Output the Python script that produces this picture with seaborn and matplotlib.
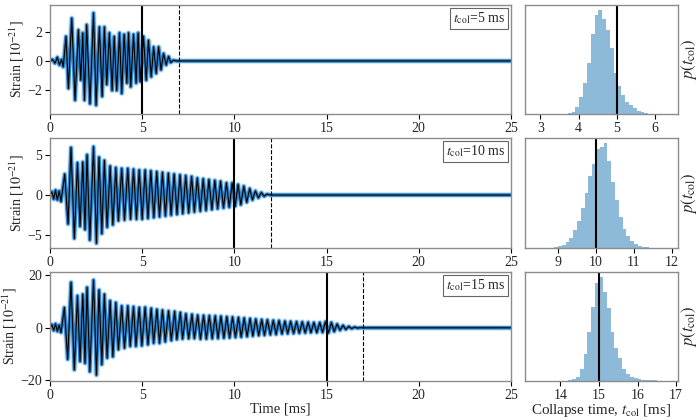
import numpy as np
import pandas as pd
import matplotlib
matplotlib.use("Agg")
import matplotlib.pyplot as plt
import seaborn as sns

sns.set_theme(style="ticks")
plt.rcParams["font.family"] = ["Liberation Serif", "DejaVu Serif"]
plt.rcParams["mathtext.fontset"] = "stix"
plt.rcParams["font.size"] = 10

# collapse times of the three rows
t_col = [5, 10, 15]

# waveform extrema (time [ms], strain [1e-21])
t1 = [0.0, 0.14, 0.27, 0.40, 0.51, 0.63, 0.72, 0.87, 1.00, 1.18, 1.36, 1.54, 1.67, 1.78,
      1.87, 1.99, 2.17, 2.36, 2.50, 2.68, 2.83, 2.95, 3.08, 3.22, 3.37, 3.48, 3.62, 3.77,
      3.89, 4.02, 4.17, 4.26, 4.38, 4.53, 4.67, 4.78, 4.89, 5.07, 5.22, 5.34, 5.49, 5.62,
      5.76, 5.89, 6.02, 6.16, 6.30, 6.43, 6.55, 6.70, 6.85, 25.0]
h1 = [0.0, 0.1, -0.15, 0.25, -0.27, 0.1, -0.4, 1.66, -1.86, 2.9, -2.66, 2.1, -1.3, 1.9,
      -2.66, 2.45, -2.9, 3.25, -3.0, 2.3, -2.4, 2.3, -1.6, 1.9, -2.0, 1.66, -2.0, 1.9,
      -2.2, 1.8, -1.5, 1.9, -1.75, 1.8, -1.5, 1.9, -1.4, 1.66, -1.3, 1.4, -1.07, 0.95,
      -0.84, 0.95, -0.6, 0.5, -0.27, 0.3, -0.1, 0.05, 0.0, 0.0]

t2 = [0.0, 0.10, 0.20, 0.30, 0.40, 0.50, 0.60, 0.80, 0.98, 1.14, 1.32, 1.49, 1.63, 1.78,
      1.90, 2.01, 2.16, 2.36, 2.52, 2.66, 2.81, 2.95, 3.10, 3.26, 3.41, 3.57, 3.71, 3.89,
      4.04, 4.22, 4.37, 4.53, 4.69, 4.84, 5.00, 5.16, 5.31, 5.47, 5.63, 5.79, 5.94, 6.10,
      6.26, 6.42, 6.57, 6.73, 6.89, 7.05, 7.20, 7.36, 7.52, 7.68, 7.83, 7.99, 8.15, 8.31,
      8.46, 8.62, 8.78, 8.94, 9.09, 9.25, 9.41, 9.57, 9.72, 9.88, 10.04, 10.20, 10.35,
      10.51, 10.67, 10.83, 10.98, 11.14, 11.30, 11.46, 11.61, 11.77, 11.95, 25.0]
h2 = [0.0, 0.4, -0.5, 0.6, -0.6, 0.5, -0.8, 2.6, -3.6, 5.9, -5.4, 4.0, -3.9, 4.1,
      -4.3, 5.0, -5.6, 6.0, -6.0, 4.7, -4.8, 4.3, -4.0, 3.6, -3.7, 3.4, -3.2, 3.3,
      -3.1, 3.3, -3.0, 3.2, -3.0, 3.1, -3.0, 3.1, -2.9, 3.0, -2.8, 2.9, -2.7, 2.8,
      -2.6, 2.7, -2.5, 2.6, -2.4, 2.5, -2.3, 2.4, -2.2, 2.3, -2.1, 2.1, -2.0, 2.0,
      -1.9, 1.9, -1.8, 1.8, -1.7, 1.7, -1.6, 1.5, -1.5, 1.5, -1.4, 1.3, -1.2,
      1.1, -0.9, 0.8, -0.6, 0.5, -0.35, 0.3, -0.15, 0.1, 0.0, 0.0]

t3 = [0.0, 0.10, 0.20, 0.30, 0.40, 0.50, 0.60, 0.78, 0.96, 1.14, 1.32, 1.49, 1.63, 1.78,
      1.90, 2.01, 2.16, 2.36, 2.52, 2.66, 2.81, 2.95, 3.10, 3.26, 3.41, 3.57, 3.71, 3.89,
      4.04, 4.22, 4.35, 4.53, 4.66, 4.84, 4.98, 5.16, 5.31, 5.49, 5.62, 5.80, 5.94, 6.10,
      6.25, 6.43, 6.58, 6.76, 6.88, 7.07, 7.19, 7.37, 7.52, 7.70, 7.83, 8.01, 8.16, 8.33,
      8.48, 8.64, 8.80, 8.96, 9.11, 9.27, 9.43, 9.59, 9.74, 9.90, 10.06, 10.22, 10.37,
      10.53, 10.69, 10.85, 11.00, 11.16, 11.32, 11.48, 11.63, 11.79, 11.95, 12.11, 12.26,
      12.42, 12.58, 12.74, 12.89, 13.05, 13.21, 13.37, 13.52, 13.68, 13.84, 14.00, 14.15,
      14.31, 14.47, 14.63, 14.78, 14.94, 15.10, 15.26, 15.41, 15.57, 15.73, 15.89, 16.04,
      16.20, 16.36, 16.52, 16.67, 16.83, 17.0, 25.0]
h3 = [0.0, 1.2, -1.0, 1.5, -1.3, 1.0, -1.8, 7.7, -12.0, 17.3, -16.0, 12.2, -12.8, 12.8,
      -13.5, 15.4, -16.7, 18.2, -18.0, 14.4, -14.0, 12.8, -11.5, 10.3, -11.0, 9.6, -8.3, 8.3,
      -7.7, 8.3, -7.0, 8.0, -7.0, 7.7, -6.8, 7.8, -6.4, 7.4, -5.8, 7.0, -5.8, 6.7,
      -5.3, 6.4, -4.8, 6.2, -4.4, 5.8, -4.2, 5.3, -4.1, 5.1, -4.0, 4.8, -4.3, 4.7,
      -4.2, 4.6, -4.1, 4.5, -4.0, 4.4, -3.9, 4.2, -3.8, 4.1, -3.6, 3.9, -3.5,
      3.7, -3.3, 3.5, -3.1, 3.3, -2.9, 3.1, -2.8, 3.0, -2.6, 2.8, -2.5,
      2.7, -2.3, 2.5, -2.2, 2.4, -2.1, 2.3, -2.0, 2.2, -1.9, 2.1, -1.8,
      2.0, -1.8, 2.0, -1.7, 2.3, -1.9, 2.0, -1.4, 1.4, -0.9, 0.9, -0.6,
      0.5, -0.3, 0.25, -0.1, 0.05, 0.0, 0.0]

# posterior histograms of t_col: first bin edge and relative counts (bin width 0.1 ms)
hist1_start = 3.62
hist1_counts = [1, 2, 7, 20, 52, 92, 154, 239, 297, 312, 287, 252, 197, 122, 84, 57,
                37, 27, 17, 9, 5, 3, 1]
hist2_start = 8.7
hist2_counts = [1, 1, 2, 5, 10, 19, 30, 55, 80, 119, 164, 214, 250, 295, 302, 312, 259,
                197, 144, 92, 57, 35, 20, 12, 7, 4, 2, 1, 1]
hist3_start = 14.1
hist3_counts = [1, 2, 5, 13, 35, 81, 148, 221, 293, 311, 268, 218, 148, 100, 68, 35, 21,
                13, 8, 6, 4, 3, 2, 2, 1, 1, 1, 1, 1]

waves = [(t1, h1), (t2, h2), (t3, h3)]
hists = [(hist1_start, hist1_counts), (hist2_start, hist2_counts), (hist3_start, hist3_counts)]
ylims = [(-3.6, 3.8), (-6.6, 7.1), (-20.3, 21.3)]
yticks = [[-2, 0, 2], [-5, 0, 5], [-20, 0, 20]]
hxlims = [(2.6, 6.6), (8.13, 12.16), (13.08, 17.05)]
hxticks = [[3, 4, 5, 6], [9, 10, 11, 12], [14, 15, 16, 17]]

fig = plt.figure(figsize=(7, 4.2), dpi=100)
rows = [(0.7286, 0.2595), (0.4095, 0.2619), (0.0929, 0.2595)]
spine_col = "0.55"

for i in range(3):
    bottom, height = rows[i]
    ax = fig.add_axes([0.0714, bottom, 0.6586, height])
    hx = fig.add_axes([0.75, bottom, 0.2186, height])
    t, h = waves[i]

    # blue spread drawn as wide strokes under the black median
    ax.plot(t, h, color="#3a93dc", lw=4.2, alpha=0.25)
    ax.plot(t, h, color="#1f7cc8", lw=2.6, alpha=0.9)
    sns.lineplot(x=t, y=h, ax=ax, color="black", lw=0.8, estimator=None, sort=False)
    ax.axvline(t_col[i], color="black", lw=1.5)
    ax.axvline(t_col[i] + 2, color="black", lw=0.8, ls="--")
    ax.set_xlim(0, 25)
    ax.set_ylim(*ylims[i])
    ax.set_yticks(yticks[i])
    ax.set_xticks([0, 5, 10, 15, 20, 25])
    ax.set_ylabel(r"Strain [$10^{-21}$]", labelpad=1, fontsize=10)
    ax.text(0.987, 0.95, r"$t_{\rm col}$=%d ms" % t_col[i], transform=ax.transAxes,
            ha="right", va="top", fontsize=10,
            bbox=dict(boxstyle="square,pad=0.2", fc="white", ec="0.4", lw=0.8))

    start, counts = hists[i]
    edges = [start + 0.1 * k for k in range(len(counts) + 1)]
    df = pd.DataFrame({"tcol": [e + 0.05 for e in edges[:-1]], "n": counts})
    sns.histplot(data=df, x="tcol", weights="n", bins=edges, stat="density", element="step",
                 fill=True, alpha=0.5, linewidth=0, color="#1f77b4", ax=hx)
    hx.axvline(t_col[i], color="black", lw=1.5)
    hx.set_xlim(*hxlims[i])
    hx.set_xticks(hxticks[i])
    hx.set_yticks([])
    hx.set_xlabel("")
    hx.yaxis.set_label_position("right")
    hx.set_ylabel(r"$p(t_{\rm col})$", labelpad=1, fontsize=12)

    for a in (ax, hx):
        for s in a.spines.values():
            s.set_color(spine_col)
            s.set_linewidth(1.0)
        a.tick_params(labelsize=10, length=3.5, width=0.8, color="black", pad=2)
    if i == 2:
        ax.set_xlabel("Time [ms]", labelpad=0.5, fontsize=10.5)
        hx.set_xlabel(r"Collapse time, $t_{\rm col}$ [ms]", labelpad=0, fontsize=10.8)

fig.savefig("out.png", dpi=100)
